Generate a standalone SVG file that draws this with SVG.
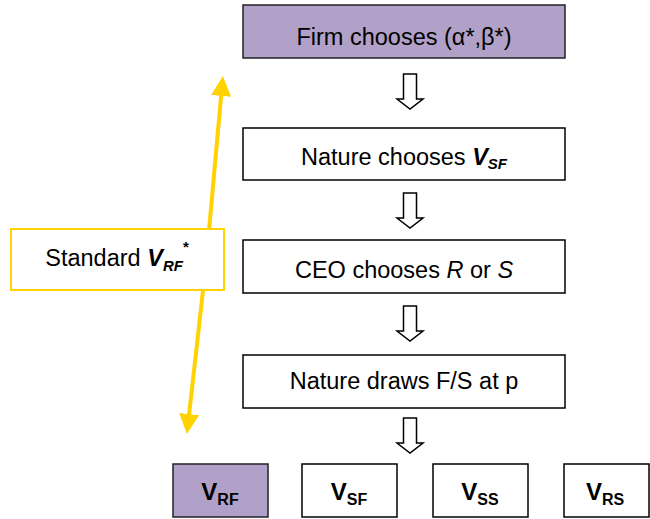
<svg xmlns="http://www.w3.org/2000/svg" width="650" height="519" viewBox="0 0 650 519">
<defs>
<style>
.box{fill:#fff;stroke:#000;stroke-width:1.5}
.pur{fill:#b1a0c7;stroke:#222;stroke-width:1.5}
.t{font-family:"Liberation Sans",Arial,sans-serif;font-size:23.5px;fill:#000;text-anchor:middle}
.v{font-family:"Liberation Sans",Arial,sans-serif;font-size:24px;font-weight:bold;fill:#000;text-anchor:middle}
.harrow{fill:#fff;stroke:#000;stroke-width:1.5;stroke-linejoin:miter}
.yl{stroke:#FFD200;stroke-width:4;fill:none}
</style>
<marker id="yh" markerWidth="5" markerHeight="5" refX="2.5" refY="2.5" orient="auto" markerUnits="strokeWidth" viewBox="0 0 5 5">
<path d="M0,0 L5,2.5 L0,5 Z" fill="#FFD200"/>
</marker>
<path id="ha" d="M-6.5,0 H6.5 V25 H13 L0,35 L-13,25 H-6.5 Z"/>
</defs>
<g id="connectors">
<use href="#ha" class="harrow" x="410" y="74"/>
<use href="#ha" class="harrow" x="410" y="193"/>
<use href="#ha" class="harrow" x="410" y="306"/>
<use href="#ha" class="harrow" x="410" y="418"/>
<line class="yl" x1="206" y1="264" x2="222" y2="86" marker-end="url(#yh)"/>
<line class="yl" x1="206" y1="264" x2="188" y2="424" marker-end="url(#yh)"/>
</g>
<g id="firm">
<rect class="pur" x="243" y="5" width="322" height="53"/>
<text class="t" x="404" y="45">Firm chooses (α*,β*)</text>
</g>
<g id="nature1">
<rect class="box" x="243" y="128" width="322" height="52"/>
<text class="t" x="404" y="165">Nature chooses <tspan font-weight="bold" font-style="italic">V</tspan><tspan font-weight="bold" font-style="italic" font-size="15" dy="4">SF</tspan></text>
</g>
<g id="ceo">
<rect class="box" x="243" y="240" width="322" height="53"/>
<text class="t" x="404" y="278">CEO chooses <tspan font-style="italic">R</tspan> or <tspan font-style="italic">S</tspan></text>
</g>
<g id="nature2">
<rect class="box" x="243" y="355" width="322" height="53"/>
<text class="t" x="404" y="389">Nature draws F/S at p</text>
</g>
<g id="standard">
<rect x="11" y="229" width="213" height="61" fill="#fff" stroke="#FFD200" stroke-width="2"/>
<text class="t" x="117" y="266">Standard <tspan font-weight="bold" font-style="italic">V</tspan><tspan font-weight="bold" font-style="italic" font-size="15" dy="5">RF</tspan><tspan font-weight="bold" font-size="15" dy="-19">*</tspan></text>
</g>
<g id="vrf">
<rect class="pur" x="173" y="464" width="95" height="53"/>
<text class="v" x="220" y="500">V<tspan font-size="16" dy="5">RF</tspan></text>
</g>
<g id="vsf">
<rect class="box" x="302" y="464" width="95" height="53"/>
<text class="v" x="349" y="500">V<tspan font-size="16" dy="5">SF</tspan></text>
</g>
<g id="vss">
<rect class="box" x="433" y="464" width="95" height="53"/>
<text class="v" x="480" y="500">V<tspan font-size="16" dy="5">SS</tspan></text>
</g>
<g id="vrs">
<rect class="box" x="564" y="464" width="85" height="53"/>
<text class="v" x="605" y="500">V<tspan font-size="16" dy="5">RS</tspan></text>
</g>
</svg>
